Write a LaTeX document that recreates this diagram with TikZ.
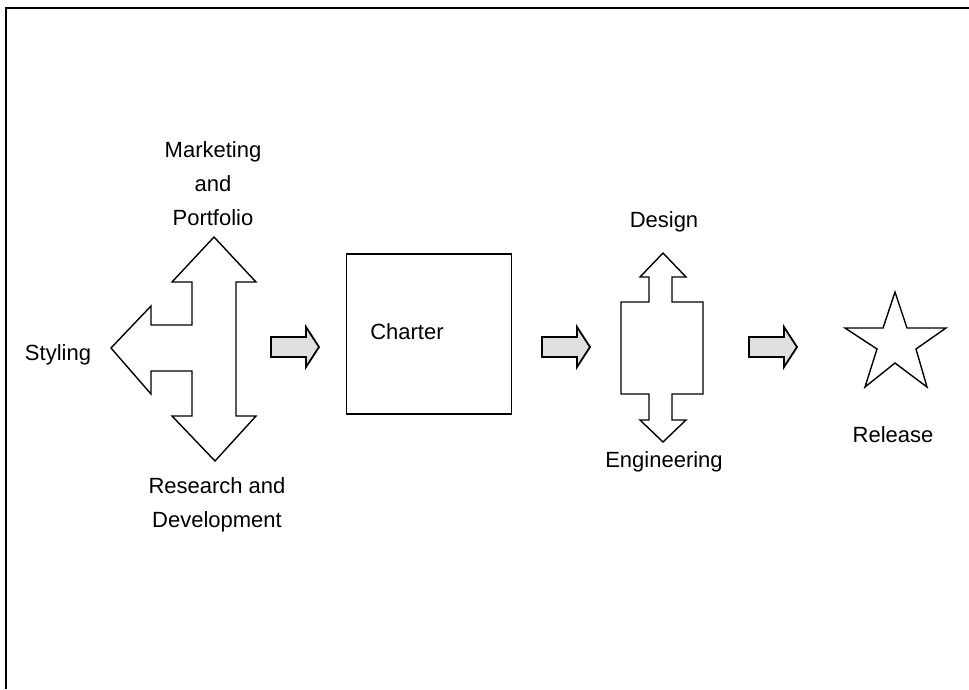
\documentclass[tikz,border=0pt]{standalone}
\usepackage{fontspec}
\setmainfont{Liberation Sans}
\begin{document}
\begin{tikzpicture}[x=1pt,y=-1pt,
  outline/.style={draw=black,line width=1.4pt,line join=miter,fill=white},
  smallarrow/.style={draw=black,line width=1.8pt,fill=black!12},
  lbl/.style={font=\fontsize{22}{34}\selectfont,align=center,inner sep=0pt}]
\useasboundingbox (0,0) rectangle (969,689);
% frame
\draw[line width=1.5pt] (6,689) -- (6,8) -- (969,8);
% left cross shape
\draw[outline] (214,237) -- (256,282) -- (236,282) -- (236,416) -- (256,416) -- (215,461)
  -- (172,416) -- (192,416) -- (192,371) -- (151,371) -- (151,394) -- (111,348)
  -- (151,306) -- (151,325) -- (192,325) -- (192,282) -- (172,282) -- cycle;
% charter box
\node[draw=black,line width=1.4pt,minimum width=165pt,minimum height=160pt,inner sep=0pt] (charter) at (429,334) {};
\node[lbl] (chartertext) at (407,332) {Charter};
% design/engineering shape
\draw[outline] (663,253) -- (686,277) -- (672,277) -- (672,302) -- (703,302) -- (703,394)
  -- (672,394) -- (672,420) -- (686,420) -- (663,442) -- (640,420) -- (649,420)
  -- (649,394) -- (621,394) -- (621,302) -- (649,302) -- (649,277) -- (640,277) -- cycle;
% star
\draw[outline] (895,292) -- (907,328) -- (946,328) -- (916,349) -- (927,387) -- (895,363)
  -- (865,387) -- (877,349) -- (845,328) -- (883,328) -- cycle;
% small block arrows
\foreach \x/\n in {271/a1,542/a2,749/a3}{
  \draw[smallarrow] (\x,337) -- (\x+35,337) -- (\x+35,327) -- (\x+48,347) -- (\x+35,367)
    -- (\x+35,357) -- (\x,357) -- cycle;
}
% labels
\node[lbl] (mkt) at (213,184) {Marketing\\and\\Portfolio};
\node[lbl] (sty) at (58,355) {Styling};
\node[lbl] (rnd) at (217,505) {Research and\\Development};
\node[lbl] (des) at (664,222) {Design};
\node[lbl] (eng) at (664,462) {Engineering};
\node[lbl] (rel) at (893,435) {Release};
\end{tikzpicture}
\end{document}
